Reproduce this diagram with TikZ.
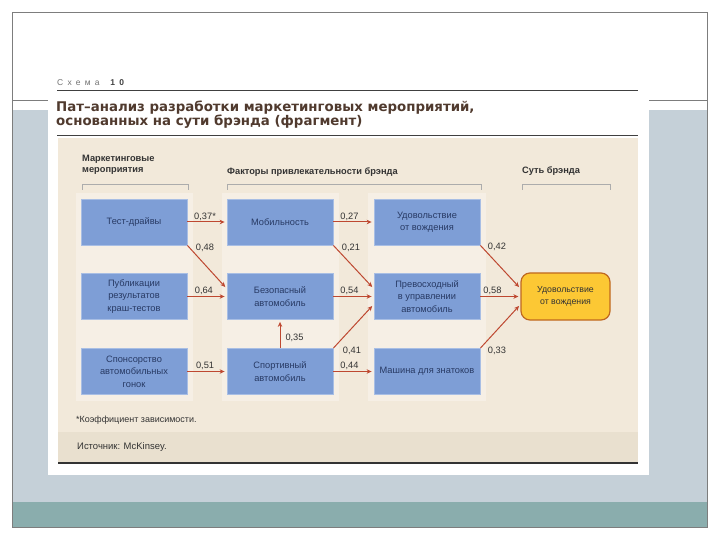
\documentclass[tikz,border=0pt]{standalone}
\usepackage{fontspec}
\setmainfont{Liberation Sans}
\newfontfamily\titlefont{DejaVu Sans}
\usetikzlibrary{arrows.meta}

\definecolor{slideblue}{RGB}{197,208,216}
\definecolor{slideteal}{RGB}{138,173,173}
\definecolor{framegray}{RGB}{125,125,125}
\definecolor{paper}{RGB}{242,233,218}
\definecolor{paperdark}{RGB}{233,224,207}
\definecolor{strip}{RGB}{246,239,229}
\definecolor{boxblue}{RGB}{126,158,214}
\definecolor{boxedge}{RGB}{168,190,228}
\definecolor{boxtext}{RGB}{40,58,100}
\definecolor{coreyellow}{RGB}{252,200,52}
\definecolor{coreedge}{RGB}{192,104,32}
\definecolor{arrred}{RGB}{190,72,48}
\definecolor{titlebrown}{RGB}{80,58,46}

\begin{document}
\begin{tikzpicture}[
    x=1bp, y=-1bp,
    blk/.style={
        draw=boxedge,
        fill=boxblue,
        line width=0.8bp,
        minimum width=106bp,
        minimum height=46bp,
        inner sep=1bp,
        align=center,
        text=boxtext,
        font=\fontsize{9.3}{12.5}\selectfont
    },
    core/.style={
        draw=coreedge,
        fill=coreyellow,
        line width=1.2bp,
        rounded corners=9bp,
        minimum width=89bp,
        minimum height=47bp,
        inner sep=1bp,
        align=center,
        text=black!80,
        font=\fontsize{8.8}{12}\selectfont
    },
    arr/.style={
        draw=arrred,
        line width=1bp,
        -{Stealth[length=5bp,width=4.5bp]},
        shorten >=2bp
    },
    coef/.style={
        font=\fontsize{9.3}{10}\selectfont,
        text=black!80,
        inner sep=1bp
    },
    hdr/.style={
        font=\bfseries\fontsize{9.3}{11}\selectfont,
        text=black!80,
        anchor=north west,
        align=left,
        inner sep=0pt
    },
    brk/.style={
        draw=gray!65,
        line width=0.7bp
    }
]
\useasboundingbox (0,0) rectangle (720,540);

%--- слайд ---
\fill[slideblue] (12,110) rectangle (707,502);
\fill[slideteal] (12,502) rectangle (707,527);
\draw[framegray, line width=0.6bp] (12,12) rectangle (707,527);
\draw[framegray, line width=0.6bp] (12,100) -- (707,100);

%--- лист со схемой ---
\fill[white] (48,70) rectangle (649,475);
\fill[paper] (58,138) rectangle (638,432);
\fill[paperdark] (58,432) rectangle (638,463);
\draw[black!75, line width=1bp] (57,91) -- (638,91);
\draw[black!75, line width=1bp] (57,136) -- (638,136);
\draw[black!80, line width=1.2bp] (58,463) -- (638,463);

% светлые полосы под колонками
\fill[strip] (76,193) rectangle (193,401);
\fill[strip] (222,193) rectangle (339,401);
\fill[strip] (368,193) rectangle (486,401);

%--- заголовок ---
\node[anchor=base west, inner sep=0pt, text=black!55,
      font=\addfontfeatures{LetterSpace=50}\fontsize{8.5}{9}\selectfont]
    (schema) at (57,86) {Схема \textbf{\color{black!75}10}};
\node[anchor=north west, inner sep=0pt, align=left, text=titlebrown,
      font=\titlefont\bfseries\fontsize{13.4}{14}\selectfont]
    (title) at (56,100.5) {Пат–анализ разработки маркетинговых мероприятий,\\
                          основанных на сути брэнда (фрагмент)};

%--- шапки колонок ---
\node[hdr] (hmkt) at (82,155) {Маркетинговые\\мероприятия};
\node[hdr] (hfac) at (227,168) {Факторы привлекательности брэнда};
\node[hdr] (hcore) at (522,167) {Суть брэнда};
\draw[brk] (82,190) -- (82,184) -- (188,184) -- (188,190);
\draw[brk] (227,190) -- (227,184) -- (481,184) -- (481,190);
\draw[brk] (522,190) -- (522,184) -- (610,184) -- (610,190);

%--- 1. маркетинговые мероприятия ---
\node[blk] (test)  at (134,222)   {Тест-драйвы};
\node[blk] (crash) at (134,296.5) {Публикации\\результатов\\краш-тестов};
\node[blk] (race)  at (134,371.5) {Спонсорство\\автомобильных\\гонок};

%--- 2. факторы ---
\node[blk] (mob)   at (280,222)   {Мобильность};
\node[blk] (safe)  at (280,296.5) {Безопасный\\автомобиль};
\node[blk] (sport) at (280,371.5) {Спортивный\\автомобиль};

%--- 3. факторы ---
\node[blk] (joy)   at (427,222)   {Удовольствие\\от вождения};
\node[blk] (drive) at (427,296.5) {Превосходный\\в управлении\\автомобиль};
\node[blk] (geek)  at (427,371.5) {Машина для знатоков};

%--- суть брэнда ---
\node[core] (brand) at (565.5,296.5) {Удовольствие\\от вождения};

%--- связи ---
\draw[arr] (test) -- node[coef, pos=0.45, above] (c1) {0,37*} (mob);
\draw[arr] (test.south east) -- node[coef, pos=0, anchor=west, xshift=7bp, yshift=-2bp] (c2) {0,48}
    ([yshift=8bp]safe.west);
\draw[arr] (crash) -- node[coef, pos=0.42, above] (c3) {0,64} (safe);
\draw[arr] (race) -- node[coef, pos=0.45, above] (c4) {0,51} (sport);
\draw[arr] (sport) -- node[coef, pos=0.35, anchor=west, xshift=4bp] (c5) {0,35} (safe);

\draw[arr] (mob) -- node[coef, pos=0.4, above] (c6) {0,27} (joy);
\draw[arr] (mob.south east) -- node[coef, pos=0, anchor=west, xshift=7bp, yshift=-2bp] (c7) {0,21}
    ([yshift=8bp]drive.west);
\draw[arr] (safe) -- node[coef, pos=0.4, above] (c8) {0,54} (drive);
\draw[arr] (sport.north east) -- node[coef, pos=0, anchor=west, xshift=8bp, yshift=-3bp] (c9) {0,41}
    ([yshift=-8bp]drive.west);
\draw[arr] (sport) -- node[coef, pos=0.4, above] (c10) {0,44} (geek);

\draw[arr] (joy.south east) -- node[coef, pos=0, anchor=west, xshift=6bp, yshift=-1bp] (c11) {0,42}
    ([yshift=8bp]brand.west);
\draw[arr] (drive) -- node[coef, pos=0.3, above] (c12) {0,58} (brand);
\draw[arr] (geek.north east) -- node[coef, pos=0, anchor=west, xshift=6bp, yshift=-3bp] (c13) {0,33}
    ([yshift=-8bp]brand.west);

%--- подписи ---
\node[anchor=west, inner sep=0pt, text=black!80, font=\fontsize{9}{10}\selectfont]
    (note) at (76,420) {*Коэффициент зависимости.};
\node[anchor=west, inner sep=0pt, text=black!80, font=\fontsize{9.5}{10}\selectfont]
    (src) at (77,447) {Источник: McKinsey.};

\end{tikzpicture}
\end{document}
